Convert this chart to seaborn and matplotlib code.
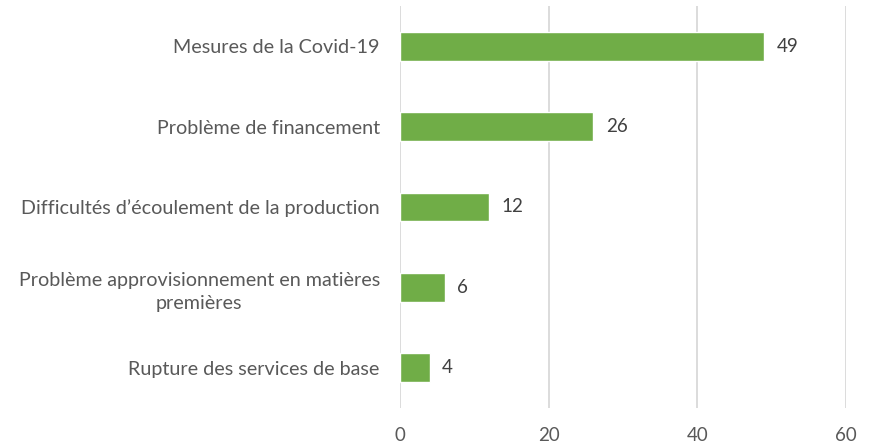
import matplotlib
matplotlib.use("Agg")
import matplotlib.pyplot as plt
import seaborn as sns
import pandas as pd

categories = [
    "Mesures de la Covid-19",
    "Problème de financement",
    "Difficultés d’écoulement de la production",
    "Problème approvisionnement en matières\npremières",
    "Rupture des services de base",
]
values = [49, 26, 12, 6, 4]
xticks = [0, 20, 40, 60]

sns.set_theme(style="white")
plt.rcParams['font.family'] = ['Lato', 'DejaVu Sans']

df = pd.DataFrame({"cat": categories, "val": values})

fig = plt.figure(figsize=(8.71, 4.46), dpi=100)
ax = fig.add_axes([400/871, 1-408/446, (846-400)/871, (408-6)/446])

sns.barplot(data=df, x="val", y="cat", color="#70AD47", saturation=1,
            width=0.36, ax=ax, zorder=3)

ax.set_xlim(0, 60)
ax.set_xticks(xticks)
ax.set_xticklabels([str(t) for t in xticks])
ax.set_ylim(4.5, -0.5)
ax.set_xlabel("")
ax.set_ylabel("")
for s in ax.spines.values():
    s.set_visible(False)
ax.grid(axis="x", color="#d9d9d9", linewidth=1.3, zorder=0)
ax.set_axisbelow(True)
ax.tick_params(axis="x", length=0, pad=14, labelsize=13.5, labelcolor="#595959")
ax.tick_params(axis="y", length=0, pad=14.5, labelsize=14.2, labelcolor="#595959")
for lab in ax.get_yticklabels():
    lab.set_horizontalalignment("right")
    lab.set_multialignment("center")
    lab.set_linespacing(1.45)

for c in ax.containers:
    ax.bar_label(c, labels=[str(v) for v in values], padding=9,
                 fontsize=13.5, color="#404040")

fig.savefig("out.png", dpi=100)
